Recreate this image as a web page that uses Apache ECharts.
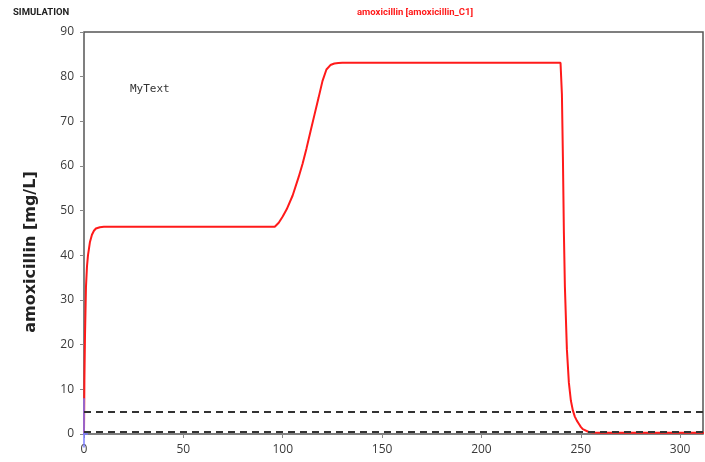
<!DOCTYPE html>
<html>
<head>
<meta charset="utf-8">
<script src="https://cdn.jsdelivr.net/npm/echarts@6/dist/echarts.min.js"></script>
<style>
  html, body { margin: 0; padding: 0; background: #fff; }
  #chart { width: 705px; height: 462px; }
</style>
</head>
<body>
<div id="chart"></div>
<script>
// simulated concentration (time, mg/L)
const time = [0, 0.2, 0.5, 1, 1.5, 2, 3, 4, 5, 6, 8, 10, 20, 40, 60, 80, 96, 97, 98, 100, 102, 105, 108, 110, 112, 114, 116, 118, 120, 122, 124, 126, 128, 130, 135, 150, 200, 239.8, 240.5, 241, 241.5, 242, 243, 244, 245, 246, 247, 248, 249, 250, 251, 252, 254, 256, 260, 280, 300, 312];
const conc = [0, 12, 22, 33, 37.5, 40, 43, 44.6, 45.5, 46, 46.3, 46.4, 46.4, 46.4, 46.4, 46.4, 46.4, 46.6, 47.3, 48.7, 50.3, 53.4, 57.5, 60.5, 64, 67.8, 71.5, 75.2, 79, 81.6, 82.6, 82.95, 83.05, 83.1, 83.1, 83.1, 83.1, 83.1, 76, 62, 45, 33, 19, 11.5, 7.5, 5.3, 3.9, 3, 2.3, 1.6, 1.1, 0.75, 0.45, 0.32, 0.3, 0.3, 0.3, 0.3];
const limits = [5, 0.5];
const xTicks = [0, 50, 100, 150, 200, 250, 300];
const yTicks = [0, 10, 20, 30, 40, 50, 60, 70, 80, 90];
// small blue cross at the origin
const markerV = [[0, -3], [0, 8]];
const markerH = [[-1, 0], [2, 0]];

const chart = echarts.init(document.getElementById("chart"));

const option = {
  animation: false,
  textStyle: { fontFamily: "Open Sans" },
  title: [
    {
      text: "SIMULATION",
      left: 13, top: 8, padding: 0,
      textStyle: { fontSize: 9.5, fontWeight: "bold", color: "#222", fontFamily: "Roboto" }
    },
    {
      text: "amoxicillin [amoxicillin_C1]",
      left: 357, top: 8, padding: 0,
      textStyle: { fontSize: 9.5, fontWeight: "bold", color: "#ff1a1a", fontFamily: "Roboto" }
    }
  ],
  graphic: [
    {
      type: "text",
      left: 130, top: 84,
      style: { text: "MyText", font: "11px 'DejaVu Sans Mono'", fill: "#333" }
    }
  ],
  grid: {
    left: 84, right: 2, top: 32, bottom: 28,
    show: true,
    borderColor: "#555",
    borderWidth: 1.5
  },
  xAxis: {
    type: "value",
    min: 0,
    max: 311.5,
    axisLine: { show: false },
    axisTick: { show: true, inside: false, length: 4, lineStyle: { color: "#888" }, customValues: xTicks },
    axisLabel: { color: "#3a3a3a", fontSize: 12, margin: 10, customValues: xTicks },
    splitLine: { show: false }
  },
  yAxis: {
    type: "value",
    min: 0,
    max: 90,
    name: "amoxicillin [mg/L]",
    nameLocation: "middle",
    nameGap: 45,
    nameTextStyle: { fontSize: 16, fontWeight: "bold", color: "#222", fontFamily: "DejaVu Sans", padding: [0, 38, 0, 0] },
    axisLine: { show: false },
    axisTick: { show: true, length: 4, lineStyle: { color: "#888" }, customValues: yTicks },
    axisLabel: { color: "#3a3a3a", fontSize: 12, margin: 10, customValues: yTicks },
    splitLine: { show: false }
  },
  series: [
    {
      type: "line",
      data: time.map((t, i) => [t, conc[i]]),
      showSymbol: false,
      smooth: false,
      lineStyle: { color: "#ff1a1a", width: 2 },
      markLine: {
        silent: true,
        symbol: "none",
        label: { show: false },
        lineStyle: { color: "#333", type: [7, 5], width: 2 },
        data: limits.map(v => ({ yAxis: v }))
      },
      z: 3
    },
    {
      type: "line",
      data: markerV,
      showSymbol: false,
      clip: false,
      lineStyle: { color: "#7b7bff", width: 1.5 },
      z: 4
    },
    {
      type: "line",
      data: markerH,
      showSymbol: false,
      clip: false,
      lineStyle: { color: "#7b7bff", width: 1.5 },
      z: 4
    }
  ]
};

chart.setOption(option);
</script>
</body>
</html>
